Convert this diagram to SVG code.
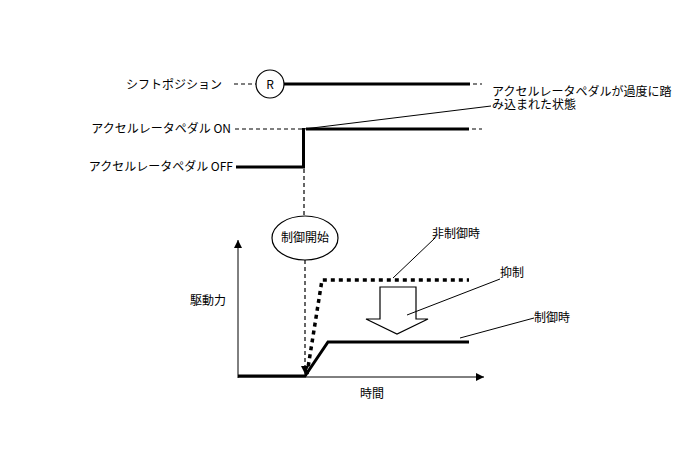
<svg xmlns="http://www.w3.org/2000/svg" width="688" height="463" viewBox="0 0 688 463">
<defs>
<style>
text{font-family:"Noto Sans CJK JP","Liberation Sans",sans-serif;font-size:12px;fill:#000}
.thick{stroke:#000;stroke-width:3;fill:none}
.thin{stroke:#000;stroke-width:1;fill:none}
.dash{stroke:#000;stroke-width:1.2;fill:none;stroke-dasharray:4 3}
.dot{stroke:#000;stroke-width:3.5;fill:none;stroke-dasharray:4 4}
</style>
<marker id="ah" viewBox="0 0 10 10" refX="10" refY="5" markerWidth="8" markerHeight="8" orient="auto" markerUnits="userSpaceOnUse"><path d="M0,0L10,5L0,10z" fill="#000"/></marker>
</defs>
<rect width="688" height="463" fill="#fff"/>
<g id="labels">
<text x="222" y="89" text-anchor="end">シフトポジション</text>
<text x="231" y="133" text-anchor="end">アクセルレータペダル ON</text>
<text x="233" y="171" text-anchor="end">アクセルレータペダル OFF</text>
<text x="492" y="96"><tspan x="492" y="96">アクセルレータペダルが過度に踏</tspan><tspan x="492" y="109">み込まれた状態</tspan></text>
<text x="190" y="305">駆動力</text>
<text x="360" y="398">時間</text>
<text x="432" y="238">非制御時</text>
<text x="500" y="277">抑制</text>
<text x="534" y="322">制御時</text>
</g>
<g id="node-R">
<circle cx="270" cy="84" r="14" fill="#fff" stroke="#000" stroke-width="1.2"/>
<text x="270" y="89" text-anchor="middle">R</text>
</g>
<g id="node-start">
<ellipse cx="305" cy="238" rx="33" ry="22" fill="#fff" stroke="#000" stroke-width="1.2"/>
<text x="305" y="242" text-anchor="middle">制御開始</text>
</g>
<g id="node-suppress">
<path d="M380,287H416V319H428L397,334L366,319H380Z" fill="#fff" stroke="#000" stroke-width="1.2"/>
</g>
<g id="connectors">
<path class="dash" d="M234,84H256"/>
<path class="thick" d="M284,84H470"/>
<path class="dash" d="M473,84H482"/>
<path class="dash" d="M235,129H302"/>
<path class="thick" d="M306,129H469"/>
<path class="dash" d="M472,129H482"/>
<path class="thick" d="M236,167H303.5V128"/>
<path class="dash" d="M304,169V216"/>
<path class="dash" d="M305,260V374" marker-end="url(#ah)"/>
<path class="thin" d="M304,129L491,106"/>
<path class="thin" d="M238,378V240" marker-end="url(#ah)"/>
<path class="thin" d="M238,377H484" marker-end="url(#ah)"/>
<path class="thick" d="M238,376H305L328,342H469"/>
<path class="dot" d="M307,374L322,280H469"/>
<path class="thin" d="M393,278L435,238"/>
<path class="thin" d="M407,315L500,279"/>
<path class="thin" d="M460,338L534,318"/>
</g>
</svg>
